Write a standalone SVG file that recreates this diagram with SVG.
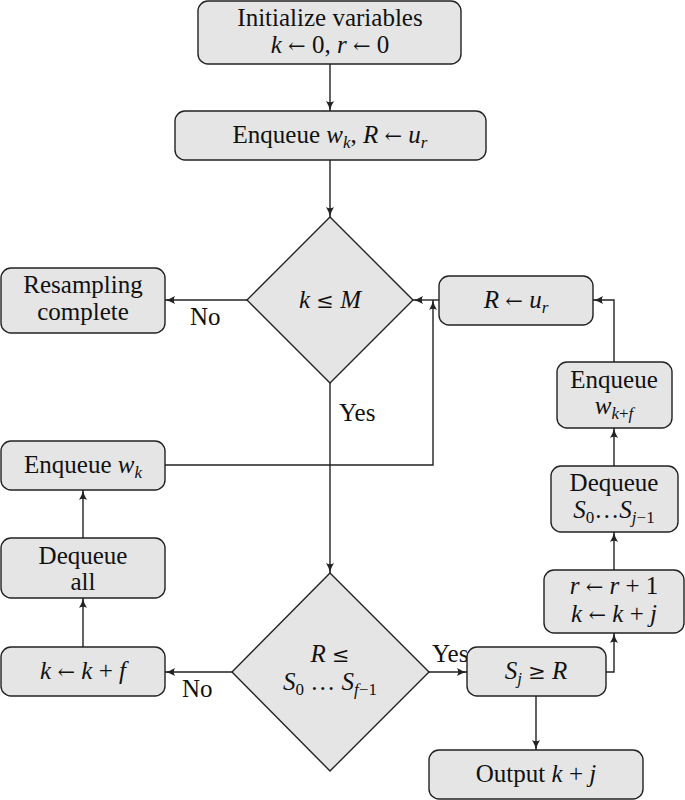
<svg xmlns="http://www.w3.org/2000/svg" width="685" height="800" viewBox="0 0 685 800" font-family="Liberation Serif, DejaVu Serif, serif">
<defs>
<style>
text{font-family:'Liberation Serif','DejaVu Serif',serif}
.box{fill:#e5e5e5;stroke:#222;stroke-width:1.4}
.t{font-size:25px;fill:#111;text-anchor:middle}
.l{font-size:25px;fill:#111}
.i{font-style:italic}
.s{font-size:17px;font-style:italic}
.sn{font-size:17px;font-style:normal}
.a{font-family:'DejaVu Serif',serif;font-size:21px}
.c{fill:none;stroke:#222;stroke-width:1.4}
</style>
<marker id="ah" viewBox="0 0 10 10" refX="10" refY="5" markerWidth="10" markerHeight="10" markerUnits="userSpaceOnUse" orient="auto">
<path d="M0,1 Q5,4.2 10,5 Q5,5.8 0,9 Q2.5,5 0,1 z" fill="#222"/>
</marker>
</defs>

<g id="connectors">
<path class="c" d="M330,64 V111" marker-end="url(#ah)"/>
<path class="c" d="M330,160 V217" marker-end="url(#ah)"/>
<path class="c" d="M247,300 H165" marker-end="url(#ah)"/>
<path class="c" d="M439,300 H413" marker-end="url(#ah)"/>
<path class="c" d="M165,465 H433 V300" marker-end="url(#ah)"/>
<path class="c" d="M614,362 V300 H593" marker-end="url(#ah)"/>
<path class="c" d="M614,466 V428" marker-end="url(#ah)"/>
<path class="c" d="M614,570 V532" marker-end="url(#ah)"/>
<path class="c" d="M606,672 H614 V633" marker-end="url(#ah)"/>
<path class="c" d="M536,696 V750" marker-end="url(#ah)"/>
<path class="c" d="M330,383 V573" marker-end="url(#ah)"/>
<path class="c" d="M429,672 H467" marker-end="url(#ah)"/>
<path class="c" d="M232,672 H165" marker-end="url(#ah)"/>
<path class="c" d="M83,647 V598" marker-end="url(#ah)"/>
<path class="c" d="M83,538 V490" marker-end="url(#ah)"/>
<text class="l" x="190" y="325">No</text>
<text class="l" x="339" y="421">Yes</text>
<text class="l" x="182" y="697">No</text>
<text class="l" x="432" y="662">Yes</text>
</g>

<g id="init">
<rect class="box" x="198" y="1" width="263" height="63" rx="10"/>
<text class="t" x="330" y="26">Initialize variables</text>
<text class="t" x="330" y="53"><tspan class="i">k</tspan> <tspan class="a">←</tspan> 0, <tspan class="i">r</tspan> <tspan class="a">←</tspan> 0</text>
</g>

<g id="enqueue1">
<rect class="box" x="175" y="111" width="311" height="49" rx="10"/>
<text class="t" x="330" y="143">Enqueue <tspan class="i">w</tspan><tspan class="s" dy="5">k</tspan><tspan dy="-5">, </tspan><tspan class="i">R</tspan> <tspan class="a">←</tspan> <tspan class="i">u</tspan><tspan class="s" dy="5">r</tspan></text>
</g>

<g id="decision1">
<polygon class="box" points="330,217 413,300 330,383 247,300"/>
<text class="t" x="330" y="308"><tspan class="i">k</tspan> <tspan class="a">≤</tspan> <tspan class="i">M</tspan></text>
</g>

<g id="resampling">
<rect class="box" x="1" y="268" width="164" height="65" rx="10"/>
<text class="t" x="83" y="293">Resampling</text>
<text class="t" x="83" y="320">complete</text>
</g>

<g id="setR">
<rect class="box" x="439" y="276" width="154" height="49" rx="10"/>
<text class="t" x="516" y="308"><tspan class="i">R</tspan> <tspan class="a">←</tspan> <tspan class="i">u</tspan><tspan class="s" dy="5">r</tspan></text>
</g>

<g id="enqueueWkf">
<rect class="box" x="557" y="362" width="115" height="66" rx="10"/>
<text class="t" x="614" y="388">Enqueue</text>
<text class="t" x="614" y="414"><tspan class="i">w</tspan><tspan class="s" dy="5">k</tspan><tspan class="sn">+</tspan><tspan class="s">f</tspan></text>
</g>

<g id="dequeueS">
<rect class="box" x="551" y="466" width="127" height="66" rx="10"/>
<text class="t" x="614" y="491">Dequeue</text>
<text class="t" x="614" y="518"><tspan class="i">S</tspan><tspan class="sn" dy="5">0</tspan><tspan dy="-5">…</tspan><tspan class="i">S</tspan><tspan class="s" dy="5">j</tspan><tspan class="sn">−1</tspan></text>
</g>

<g id="update">
<rect class="box" x="544" y="570" width="140" height="63" rx="10"/>
<text class="t" x="614" y="594"><tspan class="i">r</tspan> <tspan class="a">←</tspan> <tspan class="i">r</tspan> + 1</text>
<text class="t" x="614" y="622"><tspan class="i">k</tspan> <tspan class="a">←</tspan> <tspan class="i">k</tspan> + <tspan class="i">j</tspan></text>
</g>

<g id="enqueueWk">
<rect class="box" x="1" y="441" width="164" height="49" rx="10"/>
<text class="t" x="83" y="473">Enqueue <tspan class="i">w</tspan><tspan class="s" dy="5">k</tspan></text>
</g>

<g id="dequeueAll">
<rect class="box" x="1" y="538" width="164" height="60" rx="10"/>
<text class="t" x="83" y="564">Dequeue</text>
<text class="t" x="83" y="590">all</text>
</g>

<g id="kplusf">
<rect class="box" x="1" y="647" width="164" height="49" rx="10"/>
<text class="t" x="83" y="679"><tspan class="i">k</tspan> <tspan class="a">←</tspan> <tspan class="i">k</tspan> + <tspan class="i">f</tspan></text>
</g>

<g id="decision2">
<polygon class="box" points="330,573 429,672 330,771 232,672"/>
<text class="t" x="330" y="662"><tspan class="i">R</tspan> <tspan class="a">≤</tspan></text>
<text class="t" x="330" y="690"><tspan class="i">S</tspan><tspan class="sn" dy="5">0</tspan><tspan dy="-5"> … </tspan><tspan class="i">S</tspan><tspan class="s" dy="5">f</tspan><tspan class="sn">−1</tspan></text>
</g>

<g id="compare">
<rect class="box" x="467" y="647" width="139" height="49" rx="10"/>
<text class="t" x="536" y="679"><tspan class="i">S</tspan><tspan class="s" dy="5">j</tspan><tspan dy="-5"> </tspan><tspan class="a">≥</tspan> <tspan class="i">R</tspan></text>
</g>

<g id="output">
<rect class="box" x="429" y="750" width="214" height="49" rx="10"/>
<text class="t" x="536" y="782">Output <tspan class="i">k</tspan> + <tspan class="i">j</tspan></text>
</g>
</svg>
